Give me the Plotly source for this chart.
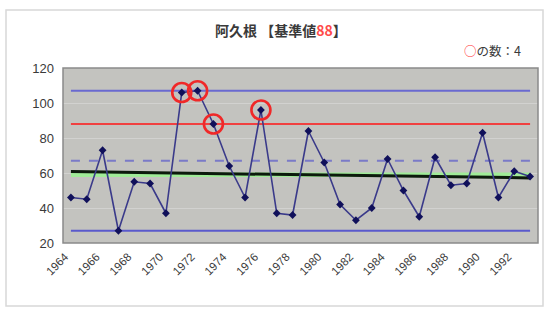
import plotly.graph_objects as go

# ---- data ----
years = list(range(1964, 1994))
values = [46, 45, 73, 27, 55, 54, 37, 106, 107, 88,
          64, 46, 96, 37, 36, 84, 66, 42, 33, 40,
          68, 50, 35, 69, 53, 54, 83, 46, 61, 58]
standard_value = 88          # red line (基準値)
max_value = 107              # upper blue line
min_value = 27               # lower blue line
dashed_value = 67            # dashed blue line
mean_value = 59              # green line
trend_start, trend_end = 60.8, 57.2   # black trend line ends
tick_years = list(range(1964, 1993, 2))
y_ticks = [20, 40, 60, 80, 100, 120]

over_x = [y for y, v in zip(years, values) if v >= standard_value]
over_y = [v for v in values if v >= standard_value]

W, H = 548, 309
L, R, T, B = 63, 10, 68, 66

fig = go.Figure()

def hline(val, color, width, dash="solid"):
    fig.add_trace(go.Scatter(x=years, y=[val] * len(years), mode="lines",
                             line=dict(color=color, width=width, dash=dash),
                             hoverinfo="skip", showlegend=False))

hline(max_value, "#6a6ad0", 2.2)
hline(min_value, "#5a5acc", 2.2)
hline(standard_value, "#f04040", 2.2)
hline(dashed_value, "#7a7ac8", 2, "dash")
hline(mean_value, "#a0ec98", 4.5)
fig.add_trace(go.Scatter(x=[years[0], years[-1]], y=[trend_start, trend_end],
                         mode="lines", line=dict(color="#0c1a0c", width=3),
                         hoverinfo="skip", showlegend=False))

fig.add_trace(go.Scatter(x=years, y=values, mode="lines+markers",
                         line=dict(color="#3a3a8a", width=1.6),
                         marker=dict(color="#10105a", size=6, symbol="diamond"),
                         showlegend=False))

fig.add_trace(go.Scatter(x=over_x, y=over_y, mode="markers",
                         marker=dict(symbol="circle-open", size=19, color="#f02828",
                                     line=dict(color="#f02828", width=2.6)),
                         showlegend=False))

# outer chart frame and plot frame
fig.add_shape(type="rect", xref="paper", yref="paper",
              x0=(6 - L) / (W - L - R), x1=(543 - L) / (W - L - R),
              y0=(H - B - 306) / (H - T - B), y1=(H - B - 10) / (H - T - B),
              line=dict(color="#d8d8d8", width=1.5), layer="below")
fig.add_shape(type="rect", xref="paper", yref="paper", x0=0, x1=1, y0=0, y1=1,
              line=dict(color="#8a8a8a", width=1.5))

fig.add_annotation(text='<b>阿久根 【基準値<span style="color:#ff4a4a">88</span>】</b>',
                   xref="paper", yref="paper",
                   x=(281 - L) / (W - L - R), y=(H - B - 30) / (H - T - B),
                   showarrow=False, xanchor="center", yanchor="middle",
                   font=dict(family="Noto Sans CJK JP", size=14, color="#3a3a3a"))
fig.add_annotation(text='<span style="color:#ff3030">○</span>の数：4',
                   xref="paper", yref="paper",
                   x=(523 - L) / (W - L - R), y=(H - B - 50) / (H - T - B),
                   showarrow=False, xanchor="right", yanchor="middle",
                   font=dict(family="Noto Sans CJK JP", size=12.5, color="#3a3a3a"))

fig.update_layout(
    width=W, height=H,
    margin=dict(l=L, r=R, t=T, b=B, autoexpand=False),
    paper_bgcolor="white", plot_bgcolor="#c3c3bf",
    font=dict(family="Liberation Sans", color="#3a3a3a"),
    xaxis=dict(range=[1963.5, 1993.5], tickvals=tick_years,
               ticktext=[str(y) for y in tick_years], tickangle=-45,
               showgrid=False, zeroline=False, ticks="", automargin=False,
               tickfont=dict(size=11.5, color="#3a3a3a"),
               ticklabelshift=-6, ticklabelstandoff=4),
    yaxis=dict(range=[20, 120], tickvals=y_ticks, showgrid=True, automargin=False,
               gridcolor="#d2d2d0", gridwidth=1, zeroline=False, ticks="",
               tickfont=dict(size=13, color="#3a3a3a"), ticklabelstandoff=8),
)

fig.write_html("out.html", post_script="document.body.style.margin='0';",
               config={"displayModeBar": False})
